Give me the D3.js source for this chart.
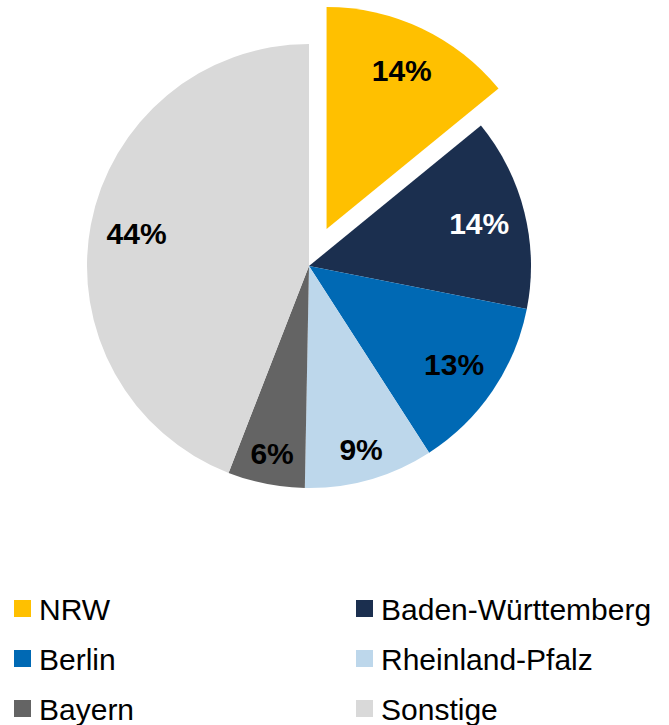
<!DOCTYPE html>
<html lang="de">
<head>
    <meta charset="UTF-8">
    <title>Anteile nach Bundesland</title>
    <script src="https://d3js.org/d3.v7.min.js"></script>
    <style>
        body {
            margin: 0;
            font-family: Arial, "Liberation Sans", sans-serif;
            background: #fff;
        }
    </style>
</head>
<body>
    <svg width="669" height="725" id="svg"></svg>

    <script>
        // data (share in %)
        const regions = ["NRW", "Baden-Württemberg", "Berlin", "Rheinland-Pfalz", "Bayern", "Sonstige"];
        const shares = [14.1, 14.0, 12.8, 9.4, 5.6, 44.1];
        const shareLabels = ["14%", "14%", "13%", "9%", "6%", "44%"];
        const colors = ["#FFC000", "#1B2F4F", "#0069B4", "#BDD7EB", "#646464", "#D9D9D9"];
        const labelColors = ["#000", "#fff", "#000", "#000", "#000", "#000"];
        const explodedRegion = "NRW";

        const svg = d3.select("#svg");
        const cx = 309, cy = 266, radius = 222;
        const explodeBy = 41;

        const data = regions.map((r, i) => ({ region: r, value: shares[i], label: shareLabels[i], i: i }));

        const pie = d3.pie()
            .value(d => d.value)
            .sort(null)
            .startAngle(0)
            .endAngle(2 * Math.PI);

        const arc = d3.arc().innerRadius(0).outerRadius(radius);

        const g = svg.append("g").attr("transform", `translate(${cx},${cy})`);

        const slices = g.selectAll("g.slice")
            .data(pie(data))
            .enter()
            .append("g")
            .attr("class", "slice")
            .attr("transform", d => {
                if (d.data.region !== explodedRegion) return null;
                const mid = (d.startAngle + d.endAngle) / 2;
                return `translate(${explodeBy * Math.sin(mid)},${-explodeBy * Math.cos(mid)})`;
            });

        slices.append("path")
            .attr("d", arc)
            .attr("fill", d => colors[d.data.i]);

        // labels: small slices get pushed a bit further out
        slices.append("text")
            .attr("transform", d => {
                const mid = (d.startAngle + d.endAngle) / 2;
                const lr = d.data.value < 10 ? radius * 0.86 : radius * 0.79;
                return `translate(${lr * Math.sin(mid)},${-lr * Math.cos(mid)})`;
            })
            .attr("text-anchor", "middle")
            .attr("dominant-baseline", "central")
            .attr("font-size", "30px")
            .attr("font-weight", "bold")
            .attr("fill", d => labelColors[d.data.i])
            .text(d => d.data.label);

        // legend, two columns
        const legendX = d3.scaleOrdinal().domain([0, 1]).range([14, 356]);
        const legendY = d3.scaleBand().domain([0, 1, 2]).range([600, 750]);

        const items = svg.selectAll("g.legend")
            .data(data)
            .enter()
            .append("g")
            .attr("class", "legend")
            .attr("transform", d => `translate(${legendX(d.i % 2)},${legendY(Math.floor(d.i / 2))})`);

        items.append("rect")
            .attr("width", 17)
            .attr("height", 17)
            .attr("fill", d => colors[d.i]);

        items.append("text")
            .attr("x", 25)
            .attr("y", 9)
            .attr("dominant-baseline", "central")
            .attr("font-size", "30px")
            .attr("fill", "#000")
            .text(d => d.region);
    </script>
</body>
</html>
